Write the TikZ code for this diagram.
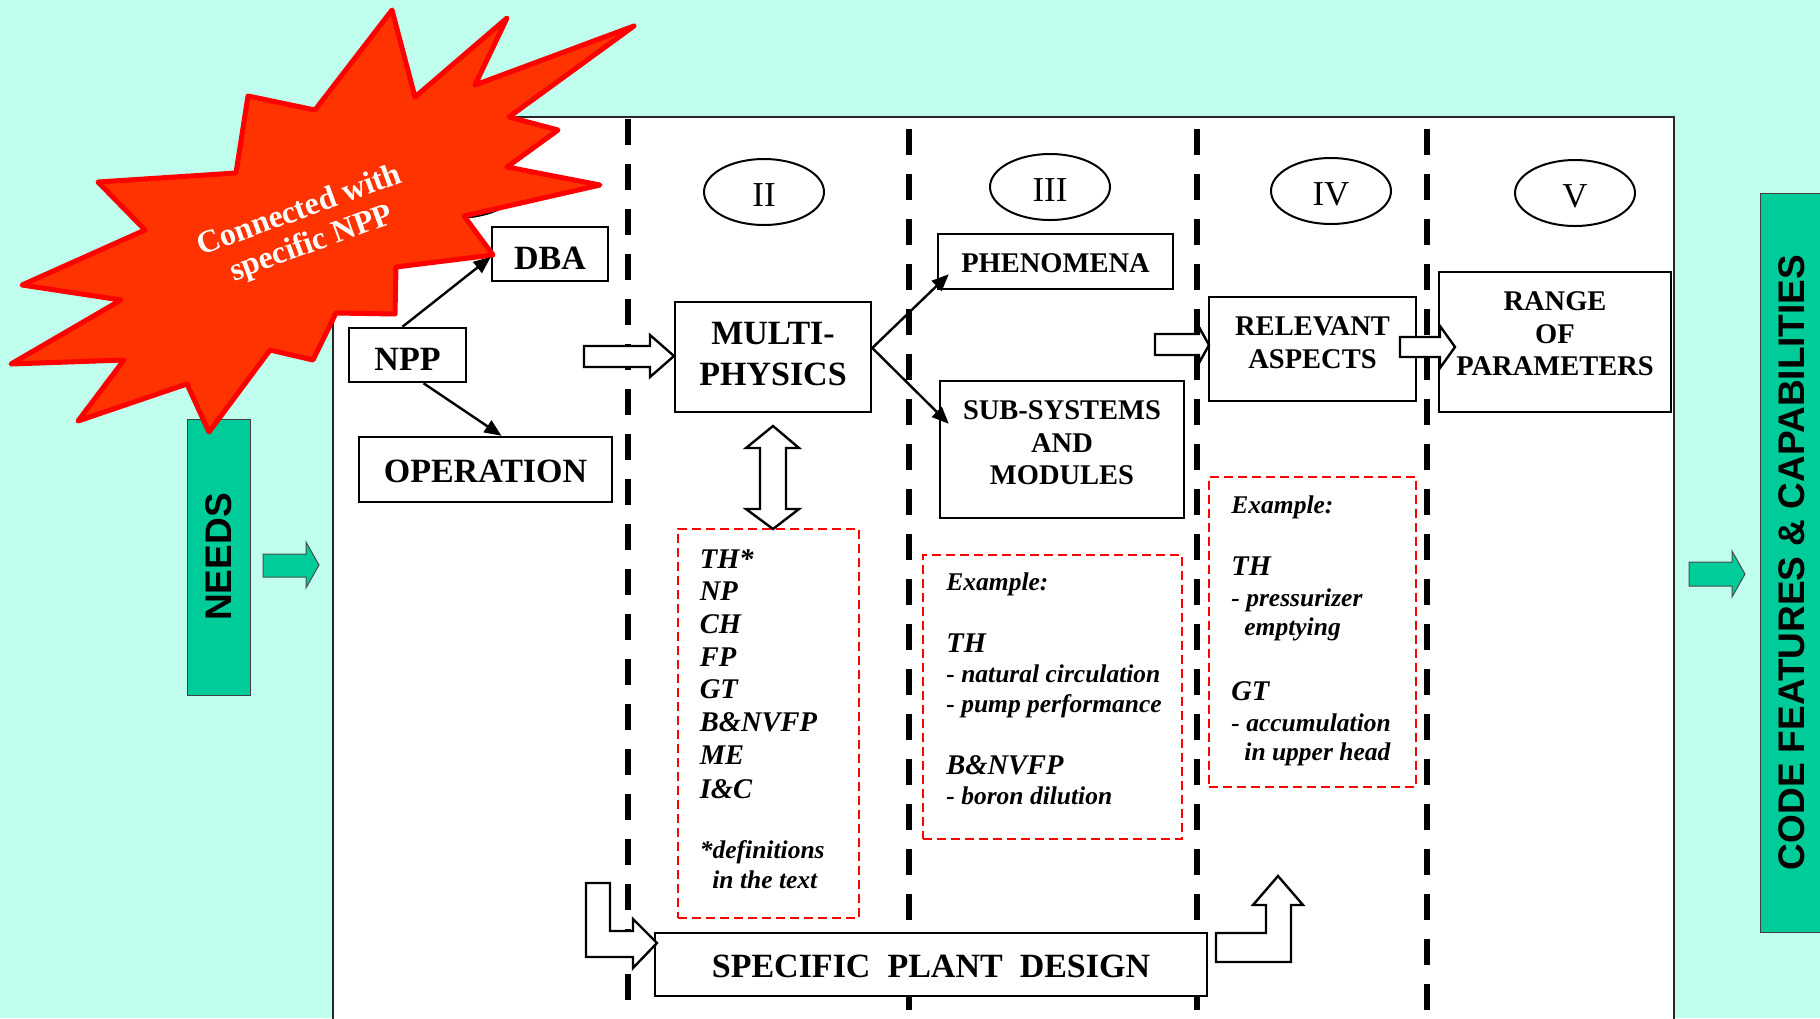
\documentclass[tikz,border=0pt]{standalone}
\usepackage{fontspec}
\setmainfont{Liberation Serif}
\newfontfamily\sansfam{Liberation Sans}
\usetikzlibrary{shapes.geometric,arrows.meta,calc}

\definecolor{bgcyan}{RGB}{192,255,238}
\definecolor{bargreen}{RGB}{0,204,153}
\definecolor{burstfill}{RGB}{255,51,0}
\definecolor{burstline}{RGB}{255,0,0}
\definecolor{framegray}{RGB}{40,40,40}

\begin{document}
\begin{tikzpicture}[x=0.5pt, y=-0.5pt,
  box/.style={draw=black, line width=1.25pt, fill=white, inner sep=0pt},
  bigtxt/.style={align=center, inner sep=0pt, font=\fontsize{17}{20.5}\selectfont\bfseries},
  midtxt/.style={align=center, inner sep=0pt, font=\fontsize{14.25}{16.25}\selectfont\bfseries},
  roman/.style={draw, ellipse, line width=1pt, fill=white, minimum width=60pt, minimum height=33pt, inner sep=0pt},
  numeral/.style={inner sep=0pt, yshift=-1.5pt, font=\fontsize{17.5}{20}\selectfont},
  divider/.style={line width=3.25pt, dash pattern=on 12.75pt off 9.75pt},
  exbox/.style={draw=red, line width=1pt, dash pattern=on 4.5pt off 2.5pt, fill=white, inner sep=0pt},
  head/.style={anchor=base west, inner sep=0pt, font=\fontsize{14.25}{16}\selectfont\bfseries\itshape},
  note/.style={anchor=base west, inner sep=0pt, font=\fontsize{12.75}{15}\selectfont\bfseries\itshape},
  link/.style={line width=1.2pt, -{Triangle[length=8.5pt,width=7pt]}},
  blockarrow/.style={draw=black, fill=white, line width=1.2pt, line join=miter},
  greenarrow/.style={draw=black!70, fill=bargreen, line width=0.5pt},
  sidebar/.style={draw=black!75, fill=bargreen, line width=0.5pt, inner sep=0pt, rotate=90,
    font=\sansfam\bfseries\fontsize{18.5}{20}\selectfont},
]
\useasboundingbox (0,0) rectangle (1820,1018);
\clip (0,0) rectangle (1820,1018);
\fill[bgcyan] (0,0) rectangle (1820,1018);

% side bars and their arrows
\node[sidebar, minimum width=138pt, minimum height=31.5pt] (needs) at (218.5,557) {NEEDS};
\node[sidebar, minimum width=369.5pt, minimum height=31.5pt] (code) at (1791.5,562.5) {CODE FEATURES \& CAPABILITIES};
\filldraw[greenarrow] (263,554) -- (306,554) -- (306,542) -- (319,565) -- (306,588) -- (306,577) -- (263,577) -- cycle;
\filldraw[greenarrow] (1689,562) -- (1732,562) -- (1732,551) -- (1745,574) -- (1732,597) -- (1732,586) -- (1689,586) -- cycle;

% main frame
\filldraw[draw=framegray, fill=white, line width=1pt] (333,117) rectangle (1674,1040);

% column I marker, almost hidden under the burst
\begin{scope}
  \clip (460,200) rectangle (515,225);
  \draw[line width=1pt] (455,185) ellipse [x radius=32.5pt, y radius=16.5pt];
\end{scope}

% column dividers
\draw[divider] (628,119) -- (628,1030);
\draw[divider] (909,129) -- (909,1030);
\draw[divider] (1197,129) -- (1197,1030);
\draw[divider] (1427,129) -- (1427,1030);

% column numbers
\node[roman, label={[name=c2T, numeral]center:II}] (c2) at (764,192) {};
\node[roman, label={[name=c3T, numeral]center:III}] (c3) at (1050,187) {};
\node[roman, label={[name=c4T, numeral]center:IV}] (c4) at (1331,191) {};
\node[roman, label={[name=c5T, numeral]center:V}] (c5) at (1575,193) {};

% column I
\node[box, minimum width=58pt, minimum height=27pt,
  label={[name=dbaT, bigtxt, yshift=-2.25pt]center:DBA}] (dba) at (550,254) {};
\node[box, minimum width=58.5pt, minimum height=27pt,
  label={[name=nppT, bigtxt, yshift=-2.25pt]center:NPP}] (npp) at (407.5,355) {};
\node[box, minimum width=126.5pt, minimum height=32.5pt,
  label={[name=operT, bigtxt, yshift=-0.75pt]center:OPERATION}] (oper) at (485.5,469.5) {};

% column II
\node[box, minimum width=98pt, minimum height=55pt,
  label={[name=multiT, bigtxt, yshift=1.25pt]center:{MULTI-\\PHYSICS}}] (multi) at (773,357) {};
\node[exbox, minimum width=90.5pt, minimum height=194.5pt] (ex1) at (768.5,723.5) {};
\node[head] (e1a) at (699.5,568) {TH*};
\node[head] (e1b) at (699.5,600) {NP};
\node[head] (e1c) at (699.5,633) {CH};
\node[head] (e1d) at (699.5,666) {FP};
\node[head] (e1e) at (699.5,698) {GT};
\node[head] (e1f) at (699.5,731) {B\&NVFP};
\node[head] (e1g) at (699.5,764) {ME};
\node[head] (e1h) at (699.5,798) {I\&C};
\node[note] (e1i) at (699.5,858) {*definitions};
\node[note] (e1j) at (712,888) {in the text};

% column III
\node[box, minimum width=117.5pt, minimum height=27.5pt,
  label={[name=phenT, midtxt, yshift=-1pt]center:PHENOMENA}] (phen) at (1055.5,261.5) {};
\node[box, minimum width=122pt, minimum height=68.5pt,
  label={[name=subT, midtxt, yshift=3.25pt]center:{SUB-SYSTEMS\\AND\\MODULES}}] (sub) at (1062,449.5) {};
\node[exbox, minimum width=129.5pt, minimum height=142pt] (ex2) at (1052.5,697) {};
\node[note] (e2a) at (946,590) {Example:};
\node[head] (e2b) at (946,652) {TH};
\node[note] (e2c) at (946,682) {- natural circulation};
\node[note] (e2d) at (946,712) {- pump performance};
\node[head] (e2e) at (946,774) {B\&NVFP};
\node[note] (e2f) at (946,804) {- boron dilution};

% column IV
\node[box, minimum width=103.5pt, minimum height=52pt,
  label={[name=relT, midtxt, yshift=3.25pt]center:{RELEVANT\\ASPECTS}}] (rel) at (1312.5,349) {};
\node[exbox, minimum width=103.5pt, minimum height=155pt] (ex3) at (1312.5,632) {};
\node[note] (e3a) at (1231,513) {Example:};
\node[head] (e3b) at (1231,575) {TH};
\node[note] (e3c) at (1231,606) {- pressurizer};
\node[note] (e3d) at (1244,635) {emptying};
\node[head] (e3e) at (1231,700) {GT};
\node[note] (e3f) at (1231,731) {- accumulation};
\node[note] (e3g) at (1244,760) {in upper head};

% column V
\node[box, minimum width=116pt, minimum height=70pt,
  label={[name=rangeT, midtxt, yshift=4pt]center:{RANGE\\OF\\PARAMETERS}}] (range) at (1555,342) {};

% plant design bar
\node[box, minimum width=276pt, minimum height=31.5pt,
  label={[name=spdT, bigtxt, yshift=-0.75pt]center:{SPECIFIC\ \ PLANT\ \ DESIGN}}] (spd) at (931,964.5) {};

% hollow block arrows
\filldraw[blockarrow] (584,346) -- (650,346) -- (650,335) -- (674,356) -- (650,377) -- (650,367) -- (584,367) -- cycle;
\filldraw[blockarrow] (773,426) -- (799,448) -- (786,448) -- (786,509) -- (799,509) -- (773,529)
  -- (746,509) -- (760,509) -- (760,448) -- (746,448) -- cycle;
\filldraw[blockarrow] (1155,334) -- (1199,334) -- (1199,327) -- (1209,345) -- (1199,363) -- (1199,355) -- (1155,355) -- cycle;
\filldraw[blockarrow] (1400,337) -- (1440,337) -- (1440,326) -- (1455,347) -- (1440,368) -- (1440,357) -- (1400,357) -- cycle;
\filldraw[blockarrow] (586,883) -- (610,883) -- (610,931) -- (633,931) -- (633,919) -- (657,943)
  -- (633,968) -- (633,957) -- (586,957) -- cycle;
\filldraw[blockarrow] (1216,962) -- (1216,933) -- (1266,933) -- (1266,905) -- (1253,905) -- (1278,876)
  -- (1303,905) -- (1291,905) -- (1291,962) -- cycle;

% burst
\filldraw[fill=burstfill, draw=burstline, line width=2.5pt, line join=round]
  (392,10) -- (415,97) -- (507,18) -- (475,85) -- (634,26) -- (509,117) -- (558,130) -- (507,167)
  -- (600,185) -- (464,216) -- (493,255) -- (396,267) -- (395,314) -- (336,313) -- (313,360)
  -- (270,350) -- (209,432) -- (187,384) -- (78,421) -- (124,360) -- (11,364) -- (121,300)
  -- (22,285) -- (145,230) -- (98,182) -- (236,173) -- (248,96) -- (315,110) -- cycle;
\node[rotate=20, text=white, align=center, font=\fontsize{16}{17.5}\selectfont\bfseries] (burstT) at (306,228)
  {Connected with\\specific NPP};

% connectors
\draw[link] ([xshift=-2.5pt]npp.north) -- ([yshift=-1.5pt]dba.west);
\draw[link] ([xshift=8pt]npp.south) -- ([xshift=8pt]oper.north);
\coordinate (fork) at ([yshift=4.5pt]multi.east);
\draw[link] (fork) -- ([xshift=6pt,yshift=8pt]phen.south west);
\draw[link] (fork) -- ([xshift=5pt,yshift=-22pt]sub.north west);
\end{tikzpicture}
\end{document}
